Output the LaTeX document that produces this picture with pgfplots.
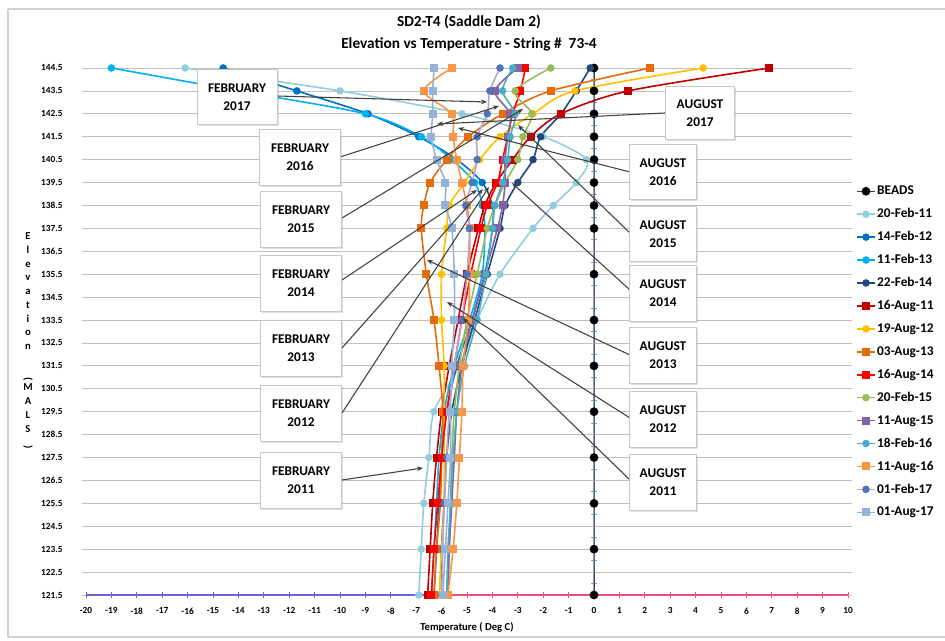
\documentclass[border=0pt]{standalone}
\usepackage{pgfplots}
\pgfplotsset{compat=1.18}
\usepackage{pgfplotstable}
\usepackage{graphicx}
\usepackage{fontspec}
\setmainfont{Carlito}
\usetikzlibrary{shadows,arrows.meta}

\definecolor{gridc}{HTML}{BFBFBF}
\definecolor{cf11}{HTML}{93CDDD}
\definecolor{cf12}{HTML}{0070C0}
\definecolor{cf13}{HTML}{00B0F0}
\definecolor{cf14}{HTML}{1F497D}
\definecolor{ca11}{HTML}{C00000}
\definecolor{ca12}{HTML}{FFC000}
\definecolor{ca13}{HTML}{E46C0A}
\definecolor{ca14}{HTML}{FF0000}
\definecolor{cf15}{HTML}{9BBB59}
\definecolor{ca15}{HTML}{8064A2}
\definecolor{cf16}{HTML}{4BACC6}
\definecolor{ca16}{HTML}{F79646}
\definecolor{cf17l}{HTML}{B9A3C9}
\definecolor{cf17m}{HTML}{4F74B8}
\definecolor{ca17}{HTML}{95B3D7}
\definecolor{axL}{HTML}{6E63D6}
\definecolor{axR}{HTML}{E8507A}
\definecolor{axV}{HTML}{8A9CB8}
\definecolor{boxc}{HTML}{C8C8C8}
\definecolor{arrc}{HTML}{404040}

\pgfplotstableread{
E     beads f11   f12   f13   f14   a11   a12   a13   a14   f15   a15   f16   a16   f17   a17
144.5 0   -16.1 -14.6 -19.0 -0.15  6.9   4.3   2.2  -2.7  -1.7  -3.0  -3.2  -5.6  -3.7  -6.3
143.5 0   -10.0 -11.7 -14.0 -0.7   1.35 -0.75 -1.7  -2.9  -3.1  -3.9  -3.6  -6.7  -4.1  -6.35
142.5 0   -5.2  -8.9  -9.0  -1.3  -1.3  -2.4  -3.6  -3.2  -2.45 -3.3  -3.1  -5.6  -4.2  -6.35
141.5 0   -2.0  -6.9  -6.8  -2.1  -2.5  -3.7  -4.95 -3.4  -2.8  -3.4  -3.3  -5.55 -4.6  -6.4
140.5 0   -0.3  -5.4  -5.6  -2.4  -3.2  -4.5  -5.8  -3.6  -3.0  -3.5  -3.4  -5.4  -4.6  -6.2
139.5 0   -0.7  -4.4  -4.7  -3.0  -3.85 -5.1  -6.45 -3.8  -3.5  -3.5  -3.6  -5.2  -4.8  -5.85
138.5 0   -1.6  -4.0  -4.4  -3.5  -4.3  -5.7  -6.7  -4.2  -3.9  -3.6  -3.9  -5.0  -5.05 -5.85
137.5 0   -2.4  -4.0  -4.3  -3.7  -4.55 -5.8  -6.8  -4.45 -4.2  -3.8  -4.0  -4.9  -4.9  -5.6
135.5 0   -3.7  -4.3  -4.4  -4.2  -5.0  -6.0  -6.6  -4.85 -4.6  -4.3  -4.25 -4.9  -5.0  -5.5
133.5 0   -4.6  -4.8  -4.9  -4.7  -5.35 -6.0  -6.3  -5.2  -5.0  -4.8  -4.6  -4.95 -5.2  -5.5
131.5 0   -5.3  -5.4  -5.5  -5.2  -5.7  -5.9  -6.1  -5.5  -5.3  -5.2  -5.1  -5.15 -5.5  -5.6
129.5 0   -6.3  -5.8  -5.9  -5.6  -6.0  -5.9  -5.95 -5.8  -5.5  -5.4  -5.4  -5.2  -5.7  -5.65
127.5 0   -6.5  -6.0  -6.1  -5.8  -6.2  -5.9  -6.0  -6.0  -5.6  -5.5  -5.55 -5.3  -5.8  -5.65
125.5 0   -6.7  -6.1  -6.2  -5.9  -6.35 -5.9  -6.05 -6.15 -5.65 -5.6  -5.65 -5.4  -5.9  -5.75
123.5 0   -6.8  -6.2  -6.3  -6.0  -6.45 -6.0  -6.2  -6.3  -5.7  -5.7  -5.75 -5.55 -5.95 -5.85
121.5 0   -6.9  -6.3  -6.4  -6.0  -6.55 -6.1  -6.3  -6.4  -5.75 -5.75 -5.8  -5.75 -6.0  -5.95
}\data

\pgfplotsset{
  ser/.style={smooth, line width=1.2pt, mark options={solid}},
  circ/.style 2 args={ser, color=#1, mark=*, mark size=2.2pt, mark options={draw=#2, fill=#2}},
  sq/.style 2 args={ser, color=#1, mark=square*, mark size=2.4pt, mark options={draw=#2, fill=#2}},
}

\begin{document}
\begin{tikzpicture}
\path[use as bounding box] (-64.5pt,-34.5pt) rectangle (644.25pt,446.25pt);
% axis decorations beneath the data (pixel frame of the picture)
\begin{scope}[shift={(-64.5pt,446.25pt)}, x=0.75pt, y=-0.75pt]
\draw[axV, line width=1.4pt] (594,68) -- (594,595);
\foreach \k in {0,...,46} {\draw[axV, line width=0.6pt] (591,{595-\k*11.4565}) -- ++(6,0);}
\foreach \k in {0,...,13} {\draw[axL, line width=0.6pt] ({86+\k*25.4},592) -- ++(0,6);}
\foreach \k in {14,...,30} {\draw[axR, line width=0.6pt] ({86+\k*25.4},592) -- ++(0,6);}
\end{scope}
\begin{axis}[
  at={(0,0)}, anchor=south west,
  scale only axis, width=571.5pt, height=395.25pt,
  xmin=-20, xmax=10, ymin=121.5, ymax=144.5,
  clip=false,
  axis line style={draw=none},
  xtick={-20,-19,...,10},
  ytick={121.5,122.5,...,144.5},
  ymajorgrids, grid style={gridc, line width=0.6pt},
  tick align=outside, major tick length=3pt,
  ytick style={gridc, line width=0.6pt},
  xtick style={draw=none},
  /pgf/number format/assume math mode=true,
  y tick label style={/pgf/number format/fixed, /pgf/number format/fixed zerofill, /pgf/number format/precision=1},
  every tick label/.append style={font=\bfseries\fontsize{7}{8}\selectfont},
  yticklabel style={xshift=-11pt},
  xticklabel style={yshift=-3pt},
  legend style={at={(1.005,0.7875)}, anchor=north west, draw=none, fill=none,
    font=\bfseries\fontsize{10}{12}\selectfont, row sep=4.7pt,
    nodes={inner sep=1pt, text height=8pt, text depth=2.5pt}},
  legend cell align=left,
  legend image code/.code={\draw[mark repeat=2,mark phase=2,#1] plot coordinates {(0cm,0cm)(0.24cm,0cm)(0.48cm,0cm)};},
]
\draw[axL, line width=1pt] (axis cs:-20,121.5) -- (axis cs:-6,121.5);
\draw[axR, line width=1pt] (axis cs:-6,121.5) -- (axis cs:10,121.5);

\addplot[color=black!75, line width=0.5pt, mark=*, mark size=3pt, mark options={draw=black, fill=black}] table[x=beads,y=E]{\data};
\addlegendentry{BEADS}
\addplot[circ={cf11}{cf11}] table[x=f11,y=E]{\data};
\addlegendentry{20-Feb-11}
\addplot[circ={cf12}{cf12}] table[x=f12,y=E]{\data};
\addlegendentry{14-Feb-12}
\addplot[circ={cf13}{cf13}] table[x=f13,y=E]{\data};
\addlegendentry{11-Feb-13}
\addplot[circ={cf14}{cf14}] table[x=f14,y=E]{\data};
\addlegendentry{22-Feb-14}
\addplot[sq={ca11}{ca11}] table[x=a11,y=E]{\data};
\addlegendentry{16-Aug-11}
\addplot[circ={ca12}{ca12}] table[x=a12,y=E]{\data};
\addlegendentry{19-Aug-12}
\addplot[sq={ca13}{ca13}] table[x=a13,y=E]{\data};
\addlegendentry{03-Aug-13}
\addplot[sq={ca14}{ca14}] table[x=a14,y=E]{\data};
\addlegendentry{16-Aug-14}
\addplot[circ={cf15}{cf15}] table[x=f15,y=E]{\data};
\addlegendentry{20-Feb-15}
\addplot[sq={ca15}{ca15}] table[x=a15,y=E]{\data};
\addlegendentry{11-Aug-15}
\addplot[circ={cf16}{cf16}] table[x=f16,y=E]{\data};
\addlegendentry{18-Feb-16}
\addplot[sq={ca16}{ca16}] table[x=a16,y=E]{\data};
\addlegendentry{11-Aug-16}
\addplot[circ={cf17l}{cf17m}] table[x=f17,y=E]{\data};
\addlegendentry{01-Feb-17}
\addplot[sq={ca17}{ca17}] table[x=a17,y=E]{\data};
\addlegendentry{01-Aug-17}
\end{axis}

\begin{scope}[shift={(-64.5pt,446.25pt)}, x=0.75pt, y=-0.75pt]
% frame
\draw[black!18, line width=0.8pt] (8,9) -- (8,637) -- (950,637);
\draw[black!18, line width=0.8pt] (8,9) -- (950,9);
% titles
\node[font=\bfseries\fontsize{11.5}{13}\selectfont] at (469,22) {SD2-T4 (Saddle Dam 2)};
\node[font=\bfseries\fontsize{11.5}{13}\selectfont] at (469,44) {Elevation vs Temperature - String \#\ \ 73-4};
\node[font=\bfseries\fontsize{8}{9}\selectfont] at (467,627) {Temperature ( Deg C)};
\node[font=\bfseries\fontsize{8}{10.3}\selectfont, align=center, inner sep=0pt] at (28,341)
  {E\\l\\e\\v\\a\\t\\i\\o\\n\\ \\\rotatebox{-90}{(}\\M\\A\\L\\S\\\rotatebox{-90}{)}};
% arrows
\begin{scope}[arrc, line width=0.8pt, -{Stealth[length=4.5pt,width=3.5pt]}]
\draw (277,96) -- (487,102);
\draw (340,157) -- (499,106);
\draw (342,218) -- (523,109);
\draw (342,280) -- (477,190);
\draw (342,348) -- (483,189);
\draw (342,413) -- (489,187);
\draw (342,480) -- (423,468);
\draw (665,113) -- (437,124);
\draw (630,172) -- (458,128);
\draw (630,233) -- (518,125);
\draw (630,290) -- (512,183);
\draw (630,355) -- (427,260);
\draw (630,418) -- (447,302);
\draw (630,480) -- (463,318);
\end{scope}
% callout boxes
\tikzset{callout/.style={draw=boxc, fill=white, line width=0.6pt, align=center,
  font=\bfseries\fontsize{10}{13.5}\selectfont,
  drop shadow={shadow xshift=1.2pt, shadow yshift=-1.2pt, opacity=0.25}}}
\node[callout, minimum width=60pt, minimum height=41pt] at (237,97) {FEBRUARY\\2017};
\node[callout, minimum width=61pt, minimum height=42pt] at (300,157) {FEBRUARY\\2016};
\node[callout, minimum width=61pt, minimum height=42pt] at (301,219) {FEBRUARY\\2015};
\node[callout, minimum width=61pt, minimum height=42pt] at (301,283) {FEBRUARY\\2014};
\node[callout, minimum width=61pt, minimum height=42pt] at (301,348) {FEBRUARY\\2013};
\node[callout, minimum width=61pt, minimum height=42pt] at (301,413) {FEBRUARY\\2012};
\node[callout, minimum width=61pt, minimum height=42pt] at (301,480) {FEBRUARY\\2011};
\node[callout, minimum width=52pt, minimum height=40pt] at (700,113) {AUGUST\\2017};
\node[callout, minimum width=50pt, minimum height=41pt] at (663,172) {AUGUST\\2016};
\node[callout, minimum width=50pt, minimum height=41pt] at (663,234) {AUGUST\\2015};
\node[callout, minimum width=50pt, minimum height=42pt] at (663,293) {AUGUST\\2014};
\node[callout, minimum width=50pt, minimum height=42pt] at (663,355) {AUGUST\\2013};
\node[callout, minimum width=50pt, minimum height=42pt] at (663,419) {AUGUST\\2012};
\node[callout, minimum width=50pt, minimum height=42pt] at (663,482) {AUGUST\\2011};
\end{scope}
\end{tikzpicture}
\end{document}
